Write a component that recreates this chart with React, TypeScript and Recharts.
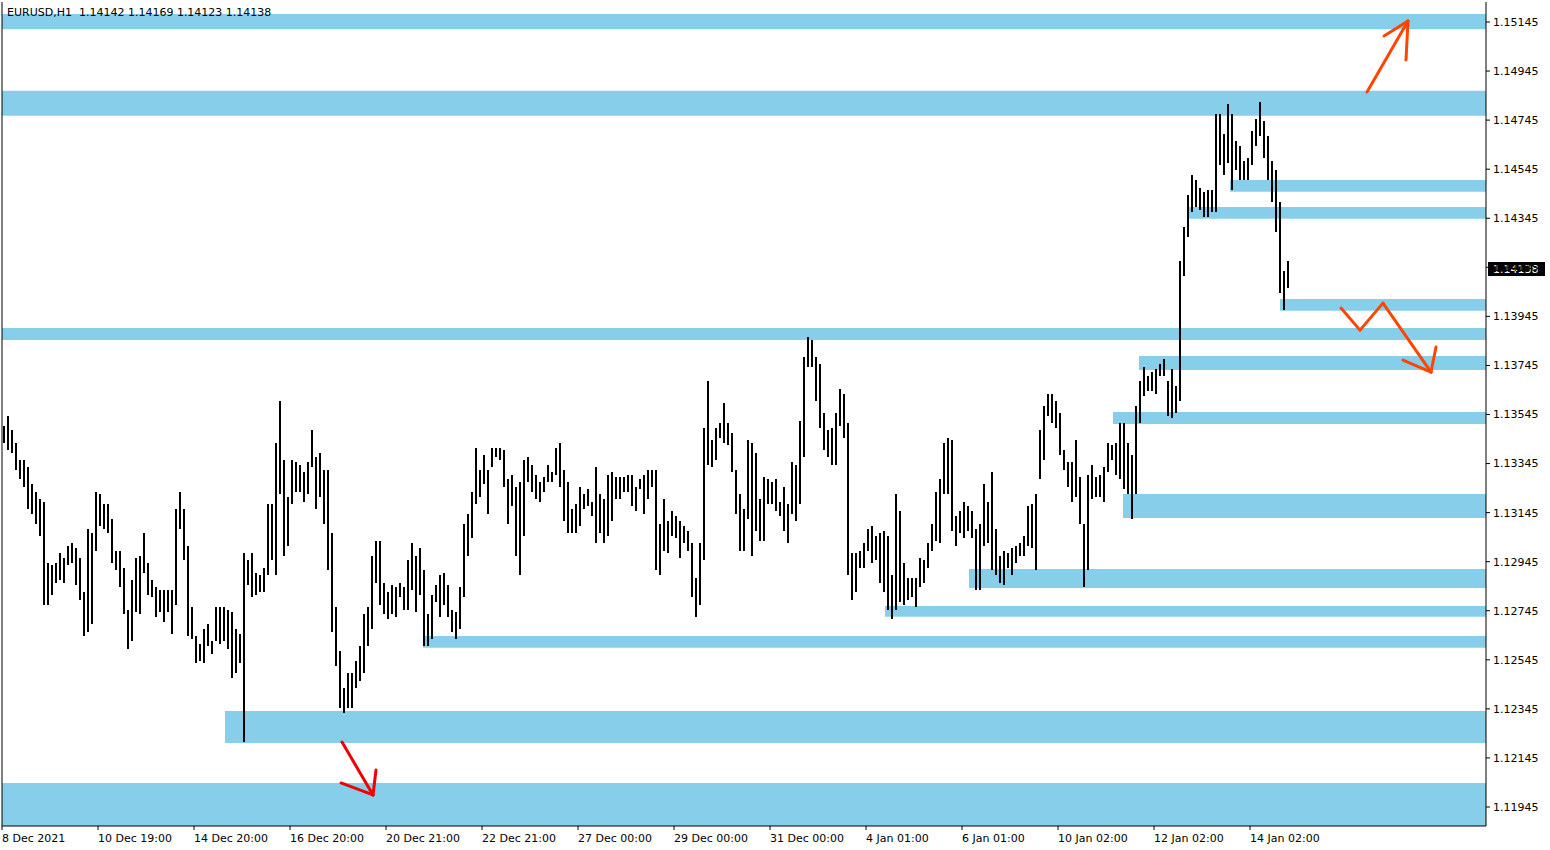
import React from 'react';
import { ComposedChart, Bar, XAxis, YAxis, ReferenceArea, ReferenceLine } from 'recharts';

// axis labels
const timeLabels = [
  '8 Dec 2021', '10 Dec 19:00', '14 Dec 20:00', '16 Dec 20:00', '20 Dec 21:00', '22 Dec 21:00', '27 Dec 00:00',
  '29 Dec 00:00', '31 Dec 00:00', '4 Jan 01:00', '6 Jan 01:00', '10 Jan 02:00', '12 Jan 02:00', '14 Jan 02:00',
];
const priceTicks = [
  1.11945, 1.12145, 1.12345, 1.12545, 1.12745, 1.12945, 1.13145, 1.13345, 1.13545,
  1.13745, 1.13945, 1.14145, 1.14345, 1.14545, 1.14745, 1.14945, 1.15145,
];

const lastBar = { open: 1.14142, high: 1.14169, low: 1.14123, close: 1.14138 };

// highs / lows, one value per 2 hours, one block between two time labels
const hi08Dec = [1.1350, 1.1354, 1.1348, 1.1343, 1.1336, 1.1336, 1.1333, 1.1326, 1.1323, 1.1320, 1.1319, 1.1294, 1.1293, 1.1294, 1.1298, 1.1296, 1.1301, 1.1302, 1.1300, 1.1296, 1.1282, 1.1308, 1.1306, 1.1323];
const lo08Dec = [1.1343, 1.1340, 1.1339, 1.1332, 1.1328, 1.1325, 1.1316, 1.1314, 1.1310, 1.1305, 1.1277, 1.1277, 1.1281, 1.1286, 1.1287, 1.1286, 1.1293, 1.1294, 1.1285, 1.1279, 1.1264, 1.1266, 1.1269, 1.1299];
const hi10Dec = [1.1322, 1.1318, 1.1318, 1.1312, 1.1299, 1.1299, 1.1292, 1.1275, 1.1287, 1.1296, 1.1297, 1.1306, 1.1294, 1.1287, 1.1284, 1.1283, 1.1283, 1.1283, 1.1283, 1.1316, 1.1323, 1.1316, 1.1301, 1.1276];
const lo10Dec = [1.1309, 1.1308, 1.1306, 1.1294, 1.1291, 1.1284, 1.1273, 1.1259, 1.1262, 1.1274, 1.1273, 1.1290, 1.1281, 1.1280, 1.1272, 1.1274, 1.1270, 1.1274, 1.1265, 1.1277, 1.1308, 1.1295, 1.1264, 1.1263];
const hi14Dec = [1.1264, 1.1261, 1.1267, 1.1269, 1.1262, 1.1276, 1.1276, 1.1276, 1.1275, 1.1274, 1.1267, 1.1265, 1.1298, 1.1295, 1.1298, 1.1290, 1.1289, 1.1292, 1.1318, 1.1318, 1.1343, 1.1360, 1.1336, 1.1321];
const lo14Dec = [1.1253, 1.1254, 1.1253, 1.1260, 1.1257, 1.1262, 1.1261, 1.1262, 1.1259, 1.1247, 1.1249, 1.1253, 1.1221, 1.1285, 1.1280, 1.1281, 1.1282, 1.1282, 1.1289, 1.1295, 1.1289, 1.1322, 1.1297, 1.1301];
const hi16Dec = [1.1336, 1.1335, 1.1334, 1.1331, 1.1335, 1.1348, 1.1337, 1.1339, 1.1332, 1.1332, 1.1306, 1.1276, 1.1258, 1.1243, 1.1249, 1.1249, 1.1254, 1.1260, 1.1273, 1.1276, 1.1297, 1.1303, 1.1303, 1.1286];
const lo16Dec = [1.1318, 1.1323, 1.1323, 1.1319, 1.1322, 1.1333, 1.1316, 1.1321, 1.1310, 1.1291, 1.1266, 1.1252, 1.1235, 1.1233, 1.1235, 1.1235, 1.1243, 1.1246, 1.1249, 1.1260, 1.1267, 1.1286, 1.1277, 1.1273];
const hi20Dec = [1.1282, 1.1285, 1.1284, 1.1286, 1.1284, 1.1295, 1.1302, 1.1297, 1.1300, 1.1291, 1.1273, 1.1281, 1.1285, 1.1289, 1.1290, 1.1285, 1.1275, 1.1274, 1.1284, 1.1310, 1.1314, 1.1323, 1.1341, 1.1332];
const lo20Dec = [1.1271, 1.1273, 1.1272, 1.1280, 1.1275, 1.1275, 1.1283, 1.1274, 1.1281, 1.1260, 1.1260, 1.1263, 1.1278, 1.1272, 1.1277, 1.1272, 1.1266, 1.1263, 1.1267, 1.1280, 1.1297, 1.1304, 1.1318, 1.1321];
const hi22Dec = [1.1338, 1.1332, 1.1341, 1.1341, 1.1341, 1.1340, 1.1328, 1.1330, 1.1325, 1.1327, 1.1336, 1.1337, 1.1334, 1.1330, 1.1327, 1.1329, 1.1334, 1.1331, 1.1341, 1.1343, 1.1332, 1.1327, 1.1316, 1.1318];
const lo22Dec = [1.1326, 1.1314, 1.1333, 1.1337, 1.1336, 1.1325, 1.1310, 1.1317, 1.1297, 1.1289, 1.1305, 1.1327, 1.1323, 1.1320, 1.1319, 1.1323, 1.1327, 1.1327, 1.1330, 1.1325, 1.1311, 1.1306, 1.1306, 1.1306];
const hi27Dec = [1.1325, 1.1322, 1.1324, 1.1319, 1.1333, 1.1322, 1.1320, 1.1330, 1.1331, 1.1329, 1.1329, 1.1329, 1.1330, 1.1330, 1.1325, 1.1328, 1.1330, 1.1332, 1.1332, 1.1332, 1.1310, 1.1320, 1.1311, 1.1315];
const lo27Dec = [1.1309, 1.1316, 1.1317, 1.1313, 1.1302, 1.1306, 1.1302, 1.1305, 1.1311, 1.1320, 1.1320, 1.1323, 1.1323, 1.1317, 1.1315, 1.1324, 1.1314, 1.1320, 1.1325, 1.1291, 1.1289, 1.1299, 1.1298, 1.1305];
const hi29Dec = [1.1313, 1.1311, 1.1309, 1.1307, 1.1302, 1.1288, 1.1302, 1.1349, 1.1368, 1.1344, 1.1349, 1.1351, 1.1359, 1.1351, 1.1347, 1.1332, 1.1322, 1.1316, 1.1344, 1.1343, 1.1339, 1.1320, 1.1329, 1.1328];
const lo29Dec = [1.1304, 1.1296, 1.1302, 1.1299, 1.1280, 1.1272, 1.1277, 1.1295, 1.1334, 1.1333, 1.1336, 1.1345, 1.1343, 1.1342, 1.1331, 1.1314, 1.1299, 1.1299, 1.1312, 1.1297, 1.1307, 1.1303, 1.1303, 1.1318];
const hi31Dec = [1.1327, 1.1328, 1.1319, 1.1325, 1.1318, 1.1335, 1.1334, 1.1352, 1.1378, 1.1386, 1.1385, 1.1378, 1.1375, 1.1355, 1.1348, 1.1349, 1.1355, 1.1365, 1.1363, 1.1351, 1.1298, 1.1298, 1.1299, 1.1302];
const lo31Dec = [1.1318, 1.1315, 1.1313, 1.1307, 1.1302, 1.1314, 1.1311, 1.1318, 1.1337, 1.1374, 1.1374, 1.1360, 1.1349, 1.1340, 1.1337, 1.1334, 1.1334, 1.1350, 1.1345, 1.1289, 1.1279, 1.1282, 1.1292, 1.1292];
const hi04Jan = [1.1308, 1.1309, 1.1305, 1.1306, 1.1307, 1.1305, 1.1289, 1.1322, 1.1315, 1.1294, 1.1288, 1.1288, 1.1288, 1.1296, 1.1295, 1.1302, 1.1310, 1.1323, 1.1328, 1.1343, 1.1345, 1.1344, 1.1313, 1.1315];
const lo04Jan = [1.1299, 1.1294, 1.1295, 1.1286, 1.1282, 1.1275, 1.1271, 1.1275, 1.1278, 1.1277, 1.1279, 1.1280, 1.1276, 1.1284, 1.1286, 1.1292, 1.1299, 1.1303, 1.1302, 1.1322, 1.1322, 1.1307, 1.1301, 1.1306];
const hi06Jan = [1.1319, 1.1317, 1.1315, 1.1308, 1.1310, 1.1326, 1.1319, 1.1331, 1.1308, 1.1297, 1.1299, 1.1298, 1.1300, 1.1301, 1.1302, 1.1305, 1.1317, 1.1318, 1.1322, 1.1348, 1.1358, 1.1363, 1.1363, 1.1360];
const lo06Jan = [1.1304, 1.1307, 1.1304, 1.1283, 1.1283, 1.1301, 1.1302, 1.1291, 1.1289, 1.1286, 1.1285, 1.1292, 1.1289, 1.1294, 1.1297, 1.1297, 1.1301, 1.1300, 1.1291, 1.1328, 1.1336, 1.1354, 1.1351, 1.1349];
const hi10Jan = [1.1355, 1.1340, 1.1335, 1.1335, 1.1344, 1.1329, 1.1310, 1.1330, 1.1334, 1.1329, 1.1330, 1.1333, 1.1343, 1.1342, 1.1343, 1.1351, 1.1351, 1.1343, 1.1338, 1.1358, 1.1368, 1.1374, 1.1370, 1.1372];
const lo10Jan = [1.1338, 1.1332, 1.1325, 1.1319, 1.1321, 1.1310, 1.1284, 1.1291, 1.1320, 1.1321, 1.1321, 1.1319, 1.1331, 1.1336, 1.1330, 1.1328, 1.1324, 1.1322, 1.1312, 1.1322, 1.1351, 1.1362, 1.1364, 1.1364];
const hi12Jan = [1.1373, 1.1375, 1.1377, 1.1368, 1.1373, 1.1366, 1.1417, 1.1431, 1.1444, 1.1452, 1.1450, 1.1447, 1.1445, 1.1446, 1.1446, 1.1477, 1.1477, 1.1469, 1.1481, 1.1477, 1.1466, 1.1464, 1.1458, 1.1459];
const lo12Jan = [1.1363, 1.1370, 1.1370, 1.1354, 1.1353, 1.1355, 1.1360, 1.1411, 1.1427, 1.1437, 1.1439, 1.1438, 1.1435, 1.1435, 1.1437, 1.1437, 1.1456, 1.1452, 1.1457, 1.1446, 1.1454, 1.1450, 1.1450, 1.1450];
const hi14Jan = [1.1470, 1.1475, 1.1482, 1.1474, 1.1468, 1.1458, 1.1454, 1.1441, 1.1413, 1.1417];
const lo14Jan = [1.1456, 1.1464, 1.1468, 1.1459, 1.1450, 1.1441, 1.1429, 1.1404, 1.1397, 1.1406];

const highs = [hi08Dec, hi10Dec, hi14Dec, hi16Dec, hi20Dec, hi22Dec, hi27Dec, hi29Dec, hi31Dec, hi04Jan, hi06Jan, hi10Jan, hi12Jan, hi14Jan].flat();
const lows = [lo08Dec, lo10Dec, lo14Dec, lo16Dec, lo20Dec, lo22Dec, lo27Dec, lo29Dec, lo31Dec, lo04Jan, lo06Jan, lo10Jan, lo12Jan, lo14Jan].flat();
const bars = highs.map((h, i) => ({ i, range: [lows[i], h] }));

// support / resistance zones: first bar index, top price, bottom price
const zoneStart = [-0.5, -0.5, 306.5, 296.25, 319, -0.5, 283.75, 277.25, 279.75, 241.25, 220.25, 104.75, 55.25, -0.5];
const zoneTop = [1.15178, 1.14865, 1.14501, 1.14391, 1.14016, 1.13898, 1.13783, 1.13555, 1.13221, 1.12915, 1.12764, 1.12642, 1.12336, 1.12043];
const zoneBottom = [1.15115, 1.14763, 1.14453, 1.14343, 1.13968, 1.13849, 1.13726, 1.13506, 1.13123, 1.12838, 1.12721, 1.12594, 1.12206, 1.118675];

// hand drawn arrows: [bar index, price] points
const arrowUp = [[[340.75, 1.1486], [351, 1.15149]], [[345, 1.15088], [351, 1.15149], [350.5, 1.1499]]];
const arrowZig = [[[334.25, 1.13979], [339, 1.13889], [344.75, 1.13999], [356.75, 1.13718]], [[349.75, 1.13767], [356.75, 1.13718], [358, 1.1382]]];
const arrowDown = [[[84.5, 1.1221], [92.25, 1.11994]], [[84.25, 1.12043], [92.25, 1.11994], [93, 1.12096]]];

const X_MIN = -0.5;
const X_MAX = 370.5;
const Y_MIN = 1.118675;
const Y_MAX = 1.152265;
const FONT = '"DejaVu Sans", Verdana, sans-serif';

const BarShape = (p: any) => (
  <rect x={p.x} y={p.y} width={p.width} height={Math.max(p.height, 1)} fill="#000" shapeRendering="crispEdges" />
);

const TimeTick = (p: any) => (
  <text x={p.x} y={p.y + 10} fontSize={11} fontFamily={FONT} fill="#000" textAnchor="start">
    {timeLabels[p.index]}
  </text>
);

const PriceTag = (p: any) => {
  const vb = p.viewBox || {};
  const x = vb.x + vb.width + 2;
  const y = vb.y;
  return (
    <g>
      <rect x={x} y={y - 7} width={57} height={14} fill="#000" />
      <text x={x + 5} y={y + 4} fontSize={11} fontFamily={FONT} fill="#fff">{p.text}</text>
    </g>
  );
};

function segments(lines: number[][][]) {
  const out: { x: number; y: number }[][] = [];
  lines.forEach((pts) => {
    for (let k = 1; k < pts.length; k++) {
      out.push([{ x: pts[k - 1][0], y: pts[k - 1][1] }, { x: pts[k][0], y: pts[k][1] }]);
    }
  });
  return out;
}

export default function App() {
  const arrowSegs = [
    ...segments(arrowUp).map((s) => ({ s, c: '#ff4500' })),
    ...segments(arrowZig).map((s) => ({ s, c: '#ff4500' })),
    ...segments(arrowDown).map((s) => ({ s, c: '#f00000' })),
  ];
  return (
    <div style={{ position: 'absolute', left: 0, top: 0, width: 1550, height: 850, background: '#fff' }}>
      <ComposedChart width={1550} height={850} data={bars} margin={{ top: 2, right: 0, bottom: 0, left: 2 }}>
        <XAxis
          dataKey="i"
          type="number"
          domain={[X_MIN, X_MAX]}
          allowDataOverflow
          ticks={timeLabels.map((_, j) => X_MIN + 24 * j)}
          interval={0}
          height={24}
          tickSize={4}
          tickLine={{ stroke: '#000' }}
          axisLine={{ stroke: '#000' }}
          tick={<TimeTick />}
        />
        <YAxis
          orientation="right"
          type="number"
          domain={[Y_MIN, Y_MAX]}
          allowDataOverflow
          ticks={priceTicks}
          interval={0}
          width={64}
          tickSize={4}
          tickMargin={3}
          tickLine={{ stroke: '#000' }}
          axisLine={{ stroke: '#000' }}
          tick={{ fill: '#000', fontSize: 11, fontFamily: FONT }}
          tickFormatter={(v: number) => v.toFixed(5)}
        />
        {zoneStart.map((x1, k) => (
          <ReferenceArea
            key={'z' + k}
            x1={x1}
            x2={X_MAX}
            y1={zoneBottom[k]}
            y2={zoneTop[k]}
            fill="#87ceeb"
            fillOpacity={1}
            stroke="none"
            ifOverflow="hidden"
          />
        ))}
        <ReferenceLine x={X_MIN} stroke="#000" />
        <Bar dataKey="range" barSize={2} fill="#000" shape={<BarShape />} isAnimationActive={false} />
        {arrowSegs.map((a, k) => (
          <ReferenceLine
            key={'a' + k}
            segment={a.s}
            stroke={a.c}
            strokeWidth={3}
            strokeLinecap="round"
            ifOverflow="visible"
          />
        ))}
        <ReferenceLine
          y={lastBar.close}
          stroke="none"
          strokeOpacity={0}
          label={<PriceTag text={lastBar.close.toFixed(5)} />}
        />
      </ComposedChart>
      <div
        style={{
          position: 'absolute',
          left: 7,
          top: 7,
          fontSize: 11,
          lineHeight: '12px',
          fontFamily: FONT,
          color: '#000',
          whiteSpace: 'pre',
        }}
      >
        {`EURUSD,H1  ${lastBar.open.toFixed(5)} ${lastBar.high.toFixed(5)} ${lastBar.low.toFixed(5)} ${lastBar.close.toFixed(5)}`}
      </div>
    </div>
  );
}
